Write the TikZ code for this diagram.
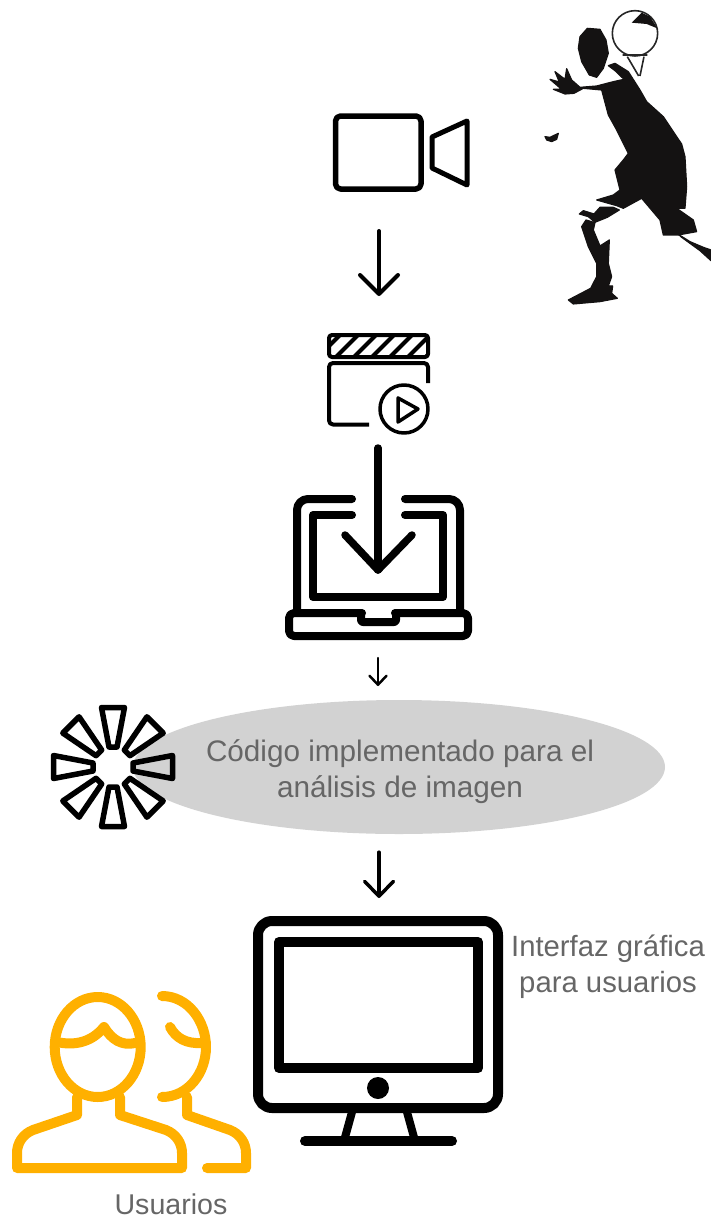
\documentclass[tikz,border=0pt]{standalone}
\usepackage{fontspec}
\setmainfont{Liberation Sans}
\usetikzlibrary{arrows.meta,shapes.geometric}
\definecolor{labelgray}{HTML}{666666}
\definecolor{blobgray}{HTML}{D2D2D2}
\definecolor{useramber}{HTML}{FFB000}
\definecolor{inkblack}{HTML}{141212}
\tikzset{
  icon/.style={draw=black,line width=#1,line join=round,line cap=round},
  icon/.default=4,
  flow/.style={draw=black,line width=#1,line cap=round,
    -{Straight Barb[round,length=19pt,width=38pt]}},
  flow/.default=4,
  person/.style={draw=useramber,line width=10,line join=round,line cap=round},
  caption/.style={text=labelgray,font=\fontsize{29.3}{36}\selectfont,align=center,inner sep=0pt},
  silhouette/.style={fill=inkblack,draw=inkblack,line width=1.2pt,line join=round}
}
\begin{document}
\begin{tikzpicture}[x=1pt,y=-1pt]
\useasboundingbox (0,0) rectangle (711,1218);

% Tennis player silhouette
\begin{scope}[shift={(500,0)},x=0.3333pt,y=-0.3333pt]
  \path[silhouette] (240,110) -- (262,85) -- (300,88) -- (318,120) -- (325,160) -- (310,205)
    -- (290,232) -- (268,225) -- (245,185) -- (235,145) -- cycle;
  \path[silhouette] (305,270) -- (250,265) -- (222,280) -- (195,282) -- (160,268) -- (185,268)
    -- (150,238) -- (178,246) -- (165,215) -- (195,238) -- (200,206) -- (215,240) -- (240,262)
    -- (290,258) -- (340,245) -- (372,238) -- (345,212) -- (325,197) -- (345,190) -- (385,215)
    -- (420,270) -- (440,305) -- (490,350) -- (530,410) -- (545,432) -- (555,470) -- (560,560)
    -- (555,625) -- (530,625) -- (580,660) -- (590,695) -- (535,705) -- (490,705) -- (480,660)
    -- (425,595) -- (370,625) -- (350,617) -- (325,610) -- (290,600) -- (340,585) -- (360,570)
    -- (345,510) -- (370,480) -- (385,460) -- (350,390) -- (325,345) -- cycle;
  \path[silhouette] (535,703) -- (570,725) -- (610,742) -- (633,750) -- (633,782) -- (600,752)
    -- (545,712) -- cycle;
  \path[silhouette] (300,622) -- (340,622) -- (358,630) -- (322,652) -- (285,667) -- (265,650)
    -- (238,642) -- (250,632) -- (282,642) -- cycle;
  \path[silhouette] (245,680) -- (258,660) -- (285,668) -- (280,690) -- (300,738) -- (328,720)
    -- (325,790) -- (335,830) -- (325,858) -- (338,858) -- (335,880) -- (352,895) -- (300,905)
    -- (220,912) -- (205,900) -- (272,865) -- (290,830) -- (290,790) -- (265,740) -- cycle;
  \path[silhouette] (135,410) -- (150,412) -- (175,400) -- (170,418) -- (155,425) -- (140,420) -- cycle;
  \draw[black!85,line width=1.6pt] (405,100) ellipse [x radius=68,y radius=68];
  \fill[inkblack] (395,68) -- (425,38) -- (450,50) -- (472,85) -- (440,72) -- cycle;
  \draw[black!85,line width=1.6pt] (368,165) -- (442,165) (382,170) -- (416,228) (432,170) -- (420,228);
\end{scope}

% Video camera
\draw[icon=5.5] (335.5,116) [rounded corners=5] rectangle (421,189);
\draw[icon=5] (432,137) -- (467,121) -- (467,185) -- (432,168) -- cycle;

% Clapperboard with play badge
\draw[icon=4,rounded corners=3] (329,357) -- (329,335) -- (428,335) -- (428,357) -- cycle;
\begin{scope}
  \clip (329,335) rectangle (428,356);
  \foreach \sx in {318,336,...,426}
    \draw[black,line width=4] (\sx,357) -- (\sx+23,334);
\end{scope}
\draw[icon=4,line cap=butt,rounded corners=4] (428,383) -- (428,363) -- (329,363) -- (329,424.5) -- (369,424.5);
\draw[icon=3.5] (404,409) circle [radius=24];
\draw[icon=3.5] (398,398) -- (418,409) -- (398,422) -- cycle;

% Laptop with incoming download arrow
\draw[icon=8,rounded corners=11] (352,499) -- (297,499) -- (297,612);
\draw[icon=8,rounded corners=11] (405,499) -- (460,499) -- (460,612);
\draw[icon=8] (352,515) -- (313,515) -- (313,597) -- (443,597) -- (443,515) -- (405,515);
\draw[icon=8,rounded corners=5] (362,613) -- (289,613) -- (289,636) -- (468,636) -- (468,613) -- (395,613);
\draw[icon=8,rounded corners=2] (361,613) -- (361,622) -- (396,622) -- (396,613);
\coordinate (dropIn) at (378,448);
\coordinate (dropOut) at (378,570);
\draw[icon=7.5] (dropIn) -- (dropOut);
\draw[icon=7.5] (345,535) -- (dropOut) -- (412,535);

% Analysis step: grey ellipse carrying its caption
\node[ellipse,fill=blobgray,minimum width=532pt,minimum height=134pt,inner sep=0pt] (analysis) at (399,767) {};
\node[caption,font=\fontsize{29.7}{36}\selectfont] (analysistext) at (400,772)
  {Código implementado para el\\análisis de imagen};

% Eight-spoke processing glyph
\foreach \ang in {0,45,...,315}
  \draw[icon=5.5,rotate around={\ang:(113,767)}]
    (109,747) -- (101.5,707.5) -- (124.5,707.5) -- (117,747) -- cycle;

% Desktop monitor
\draw[icon=10,rounded corners=14] (258,921) rectangle (498,1108);
\draw[icon=10] (279,942) rectangle (478,1068);
\fill[black] (378,1088) circle [radius=11];
\draw[icon=8,line cap=butt] (352,1112) -- (344,1141);
\draw[icon=8,line cap=butt] (407,1112) -- (415,1141);
\draw[icon=10] (305,1141) -- (452,1141);

% Users
\draw[person] (97.7,1047) ellipse [x radius=43,y radius=50];
\draw[person] (57,1042) .. controls (75,1046) and (92,1042) .. (104,1027)
  .. controls (112,1040) and (122,1046) .. (135,1043);
\draw[person] (77,1097) -- (77,1115) -- (33,1130)
  .. controls (23,1134) and (17,1143) .. (17,1153) -- (17,1168) -- (182,1168) -- (182,1153)
  .. controls (182,1143) and (176,1134) .. (166,1130) -- (120,1115) -- (120,1097);
\draw[person] (162,996) .. controls (188,996) and (206,1021) .. (206,1047)
  .. controls (206,1073) and (188,1097) .. (162,1097);
\draw[person] (170,1027) .. controls (176,1038) and (186,1044) .. (202,1043);
\draw[person] (187,1097) -- (187,1115) -- (230,1130)
  .. controls (240,1134) and (246,1143) .. (246,1153) -- (246,1168) -- (207,1168);

% Flow between the stages
\coordinate (camOut) at (379,231);
\coordinate (clipIn) at (379,296);
\coordinate (laptopOut) at (378,658);
\coordinate (analysisIn) at (378,686);
\coordinate (monitorIn) at (379,898);
\draw[flow=4] (camOut) -- (clipIn);
\draw[draw=black,line width=2.5,line cap=round,-{Straight Barb[round,length=9pt,width=17pt]}] (laptopOut) -- (analysisIn);
\draw[draw=black,line width=3.5,line cap=round,-{Straight Barb[round,length=15pt,width=29pt]}] (analysis.south -| monitorIn) ++(0,18) -- (monitorIn);

% Captions
\node[caption] (screenlabel) at (608,966.5) {Interfaz gráfica\\para usuarios};
\node[caption,font=\fontsize{28.6}{36}\selectfont] (userlabel) at (171,1204) {Usuarios};
\end{tikzpicture}
\end{document}
